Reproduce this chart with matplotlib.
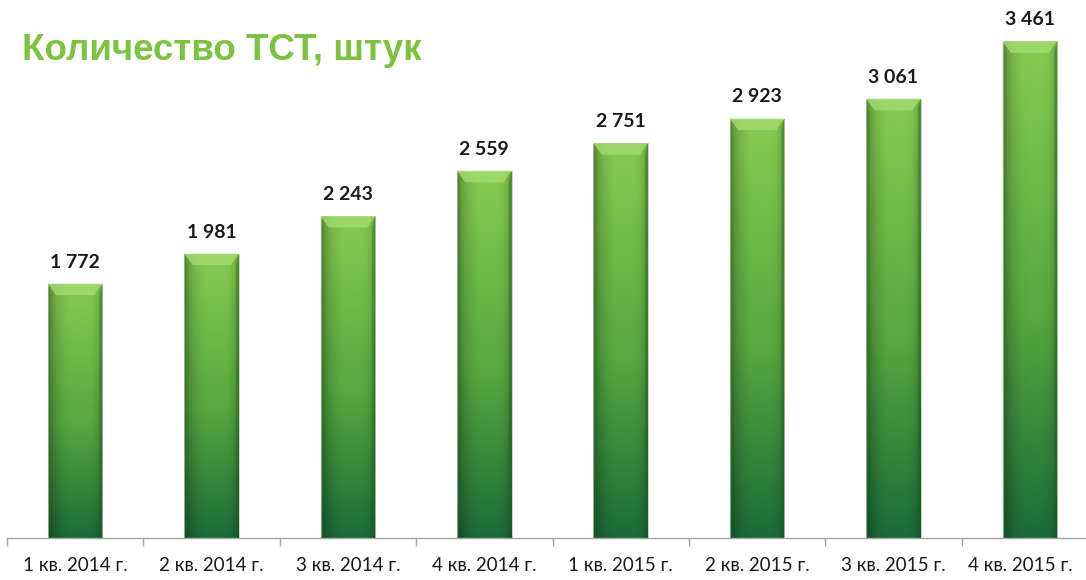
import numpy as np
import matplotlib
matplotlib.use('Agg')
import matplotlib.pyplot as plt
from matplotlib.patches import Polygon
from matplotlib.transforms import ScaledTranslation

# данные
quarters = ['1 кв. 2014 г.', '2 кв. 2014 г.', '3 кв. 2014 г.', '4 кв. 2014 г.',
            '1 кв. 2015 г.', '2 кв. 2015 г.', '3 кв. 2015 г.', '4 кв. 2015 г.']
values = [1772, 1981, 2243, 2559, 2751, 2923, 3061, 3461]
value_labels = ['1 772', '1 981', '2 243', '2 559', '2 751', '2 923', '3 061', '3 461']
title = 'Количество ТСТ, штук'


def bar_gradient(ny: int = 200, nx: int = 60) -> np.ndarray:
    """
    Градиент для столбца: снизу темно-зеленый, сверху светло-зеленый,
    по краям немного темнее
    """
    bottom = np.array([0.11, 0.42, 0.22])
    mid = np.array([0.34, 0.66, 0.25])
    top = np.array([0.53, 0.80, 0.32])
    img = np.zeros((ny, nx, 3))
    for i, tv in enumerate(np.linspace(0, 1, ny)):
        if tv < 0.45:
            c = bottom + (mid - bottom) * (tv / 0.45)
        else:
            c = mid + (top - mid) * ((tv - 0.45) / 0.55)
        img[i, :, :] = c
    xs = np.linspace(-1, 1, nx)
    shade = 1 - 0.22 * np.abs(xs - 0.15) ** 3 - 0.08 * (xs > 0.7) * (xs - 0.7) / 0.3
    img = img * shade[None, :, None]
    return np.clip(img, 0, 1)


fig = plt.figure(figsize=(10.86, 5.8), dpi=100)
ax = fig.add_axes([7 / 1086, 42 / 580, 1091 / 1086, 531 / 580])

x = np.arange(len(values))
bars = ax.bar(x, values, width=0.4, color='none', edgecolor='#b9d3b0', linewidth=0.6, zorder=2)

ax.set_xlim(-0.5, len(values) - 0.5)
ax.set_ylim(0, 3700)

grad = bar_gradient()
bev_x = 0.06
bev_y = 80
for bar, lab in zip(bars, value_labels):
    x0 = bar.get_x()
    w = bar.get_width()
    h = bar.get_height()
    im = ax.imshow(grad, extent=[x0, x0 + w, 0, h], origin='lower', aspect='auto', zorder=1)
    im.set_clip_path(bar)
    # фаска сверху
    top_poly = Polygon([[x0, h], [x0 + w, h], [x0 + w - bev_x, h - bev_y], [x0 + bev_x, h - bev_y]],
                       closed=True, facecolor='#a2dc70', edgecolor='none', alpha=0.8, zorder=3)
    left_poly = Polygon([[x0, h], [x0 + bev_x * 0.35, h - bev_y], [x0 + bev_x * 0.35, 0], [x0, 0]],
                        closed=True, facecolor='#2d6e2a', edgecolor='none', alpha=0.25, zorder=3)
    right_poly = Polygon([[x0 + w, h], [x0 + w - bev_x * 0.35, h - bev_y], [x0 + w - bev_x * 0.35, 0], [x0 + w, 0]],
                         closed=True, facecolor='#1f5a22', edgecolor='none', alpha=0.35, zorder=3)
    for p in (top_poly, left_poly, right_poly):
        ax.add_patch(p)
    ax.text(x0 + w / 2, h + 150, lab, ha='center', va='center', fontsize=14,
            fontweight='bold', family=['Lato', 'DejaVu Sans'], color='#1a1a1a', zorder=4)

for side in ['top', 'right', 'left']:
    ax.spines[side].set_visible(False)
ax.spines['bottom'].set_color('#a6a6a6')
ax.spines['bottom'].set_linewidth(1.0)

ax.set_yticks([])
ax.set_xticks(x)
ax.set_xticklabels(quarters, fontsize=13.5, family=['Lato', 'DejaVu Sans'], color='#1a1a1a')
ax.tick_params(axis='x', which='major', length=0, pad=14)
ax.set_xticks(np.arange(-0.5, len(values), 1.0), minor=True)
ax.tick_params(axis='x', which='minor', length=6, color='#a6a6a6', width=1.0, direction='out')

# последняя подпись немного левее, чтобы не обрезалась
last = ax.get_xticklabels()[-1]
last.set_transform(last.get_transform() + ScaledTranslation(-9 / 100, 0, fig.dpi_scale_trans))

fig.text(22 / 1086, 1 - 50 / 580, title, ha='left', va='center', fontsize=26.5,
         fontweight='bold', family=['Liberation Sans', 'DejaVu Sans'], color='#7dc242')

fig.savefig('out.png', dpi=100)
